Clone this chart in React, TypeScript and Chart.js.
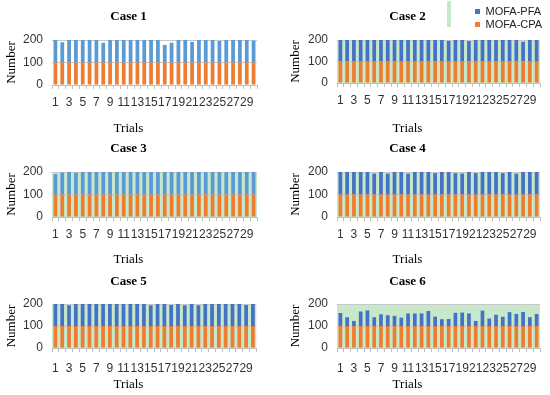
import React, { useEffect, useRef } from 'react';
import { Chart, registerables } from 'chart.js';

Chart.register(...registerables);

const trials = ['1','2','3','4','5','6','7','8','9','10','11','12','13','14','15','16','17','18','19','20','21','22','23','24','25','26','27','28','29','30'];
const yTicks = [0, 100, 200];

const cpa = [100,100,100,100,100,100,100,100,100,100,100,100,100,100,100,100,100,100,100,100,100,100,100,100,100,100,100,100,100,100];

const case1Pfa = [100,90,100,100,100,100,100,88,100,100,100,100,100,100,100,100,78,88,100,100,92,100,100,100,96,100,100,100,100,97];
const case2Pfa = [100,100,100,100,100,100,100,100,100,100,100,100,100,100,100,100,96,100,100,95,100,100,100,100,100,100,100,92,100,100];
const case3Pfa = [91,98,100,97,100,100,100,100,100,100,100,100,100,100,100,100,100,100,100,100,100,100,100,100,100,100,100,100,100,100];
const case4Pfa = [100,100,100,100,100,93,100,93,100,100,93,100,100,100,95,100,100,95,93,100,95,100,100,100,95,100,93,100,100,100];
const case5Pfa = [100,100,94,100,100,100,100,100,100,100,100,100,100,100,94,100,100,95,100,94,100,94,100,100,100,100,100,100,96,100];
const case6Pfa = [59,40,23,66,71,40,53,49,46,38,57,57,57,68,43,31,32,60,61,57,23,70,34,51,42,63,55,64,40,55];

const ORANGE = '#ED7D31';
const BLUE_LIGHT = '#5B9BD5';
const BLUE_DARK = '#4472C4';
const GREEN = '#C8E8CC';

const plotBg = {
  id: 'plotBg',
  beforeDraw(chart: any, _args: any, opts: any) {
    if (!opts || !opts.color) return;
    const { ctx, chartArea } = chart;
    ctx.save();
    ctx.fillStyle = opts.color;
    ctx.fillRect(chartArea.left, chartArea.top, chartArea.right - chartArea.left, chartArea.bottom - chartArea.top);
    ctx.restore();
  },
};

type PanelProps = {
  left: number; top: number; width: number; height: number;
  caseTitle: string; pfa: number[]; blue: string; green: boolean;
  plotLeft: number; plotRight: number; plotTop: number; plotBottom: number;
  titleCenter: number; trialsCenter: number; labelPad: number; numberX: number;
};

function Panel(p: PanelProps) {
  const ref = useRef<HTMLCanvasElement>(null);
  useEffect(() => {
    const pb = Math.max(0, p.height - 7.8 - p.trialsCenter);
    const pt = 2;
    const xH = p.height - 15.6 - pb - pt - p.plotBottom;
    const chart = new Chart(ref.current!, {
      type: 'bar',
      data: {
        labels: trials,
        datasets: [
          { label: 'MOFA-CPA', data: cpa, backgroundColor: ORANGE, stack: 's' },
          { label: 'MOFA-PFA', data: p.pfa, backgroundColor: p.blue, stack: 's' },
        ],
      },
      options: {
        responsive: false,
        animation: false,
        devicePixelRatio: 1,
        layout: { padding: { left: 0, right: p.width - p.plotRight, top: 0, bottom: 0 } },
        datasets: { bar: { categoryPercentage: 1, barPercentage: 0.55 } },
        plugins: {
          legend: { display: false },
          tooltip: { enabled: false },
          plotBg: { color: p.green ? GREEN : null },
          title: {
            display: true,
            text: p.caseTitle,
            color: '#000',
            font: { family: 'Liberation Serif', size: 13, weight: 'bold' },
            padding: { top: p.titleCenter - 7.8, bottom: p.plotTop - p.titleCenter - 7.8 },
          },
          subtitle: {
            display: true,
            position: 'bottom',
            text: 'Trials',
            color: '#000',
            font: { family: 'Liberation Serif', size: 13 },
            padding: { top: pt, bottom: pb },
          },
        } as any,
        scales: {
          x: {
            stacked: true,
            grid: { display: true, drawOnChartArea: false, drawTicks: true, tickLength: 4, color: '#BFBFBF', offset: true },
            border: { display: true, color: '#BFBFBF' },
            ticks: {
              autoSkip: false,
              maxRotation: 0,
              minRotation: 0,
              padding: p.labelPad,
              color: '#333',
              font: { family: 'Liberation Sans', size: 12 },
              callback: (_v: any, i: number) => (i % 2 === 0 ? trials[i] : ''),
            },
            afterFit: (s: any) => { s.height = xH; },
          },
          y: {
            stacked: true,
            min: yTicks[0],
            max: yTicks[yTicks.length - 1],
            grid: { color: '#C8C8C8', drawTicks: false },
            border: { display: false },
            ticks: {
              stepSize: yTicks[1] - yTicks[0],
              padding: 9,
              color: '#333',
              font: { family: 'Liberation Sans', size: 12 },
            },
            title: {
              display: true,
              text: 'Number',
              color: '#000',
              font: { family: 'Liberation Serif', size: 13 },
              padding: { top: p.numberX - 7.8, bottom: 0 },
            },
            afterFit: (s: any) => { s.width = p.plotLeft; },
          },
        },
      },
      plugins: [plotBg],
    });
    return () => chart.destroy();
  }, []);
  return (
    <canvas
      ref={ref}
      width={p.width}
      height={p.height}
      style={{ position: 'absolute', left: p.left, top: p.top, width: p.width, height: p.height }}
    />
  );
}

function LegendChart() {
  const ref = useRef<HTMLCanvasElement>(null);
  useEffect(() => {
    const chart = new Chart(ref.current!, {
      type: 'bar',
      data: {
        labels: [],
        datasets: [
          { label: 'MOFA-PFA', data: [], backgroundColor: BLUE_DARK },
          { label: 'MOFA-CPA', data: [], backgroundColor: ORANGE },
        ],
      },
      options: {
        responsive: false,
        animation: false,
        devicePixelRatio: 1,
        layout: { padding: 0 },
        scales: { x: { display: false }, y: { display: false } },
        plugins: {
          tooltip: { enabled: false },
          legend: {
            position: 'top',
            align: 'start',
            labels: {
              boxWidth: 5,
              boxHeight: 5,
              padding: 2,
              color: '#222',
              font: { family: 'Liberation Sans', size: 11 },
            },
          },
        },
      },
    });
    return () => chart.destroy();
  }, []);
  return (
    <canvas
      ref={ref}
      width={77}
      height={90}
      style={{ position: 'absolute', left: 473, top: 4, width: 77, height: 90, pointerEvents: 'none' }}
    />
  );
}

export default function App() {
  const L = { left: 0, width: 262, plotLeft: 52, plotRight: 257, numberX: 12 };
  const R = { left: 275, width: 275, plotLeft: 62, plotRight: 265, numberX: 20.5 };
  const row1 = { top: 0, height: 136, titleCenter: 17, plotTop: 40, trialsCenter: 129, labelPad: 6 };
  const row2 = { top: 136, height: 131, titleCenter: 13, plotTop: 36, plotBottom: 81, trialsCenter: 124, labelPad: 6 };
  const row3 = { top: 267, height: 128, titleCenter: 15, plotTop: 37, plotBottom: 81, trialsCenter: 118, labelPad: 9 };
  return (
    <div style={{ position: 'absolute', left: 0, top: 0, width: 550, height: 395, background: '#fff', overflow: 'hidden' }}>
      <Panel {...L} {...row1} plotBottom={85} caseTitle="Case 1" pfa={case1Pfa} blue={BLUE_LIGHT} green={false} />
      <Panel {...R} {...row1} plotBottom={83} caseTitle="Case 2" pfa={case2Pfa} blue={BLUE_DARK} green={true} />
      <Panel {...L} {...row2} caseTitle="Case 3" pfa={case3Pfa} blue={BLUE_LIGHT} green={true} />
      <Panel {...R} {...row2} caseTitle="Case 4" pfa={case4Pfa} blue={BLUE_DARK} green={true} />
      <Panel {...L} {...row3} caseTitle="Case 5" pfa={case5Pfa} blue={BLUE_DARK} green={true} />
      <Panel {...R} {...row3} caseTitle="Case 6" pfa={case6Pfa} blue={BLUE_DARK} green={true} />
      <div style={{ position: 'absolute', left: 447, top: 1, width: 4, height: 26, background: GREEN }} />
      <LegendChart />
    </div>
  );
}
